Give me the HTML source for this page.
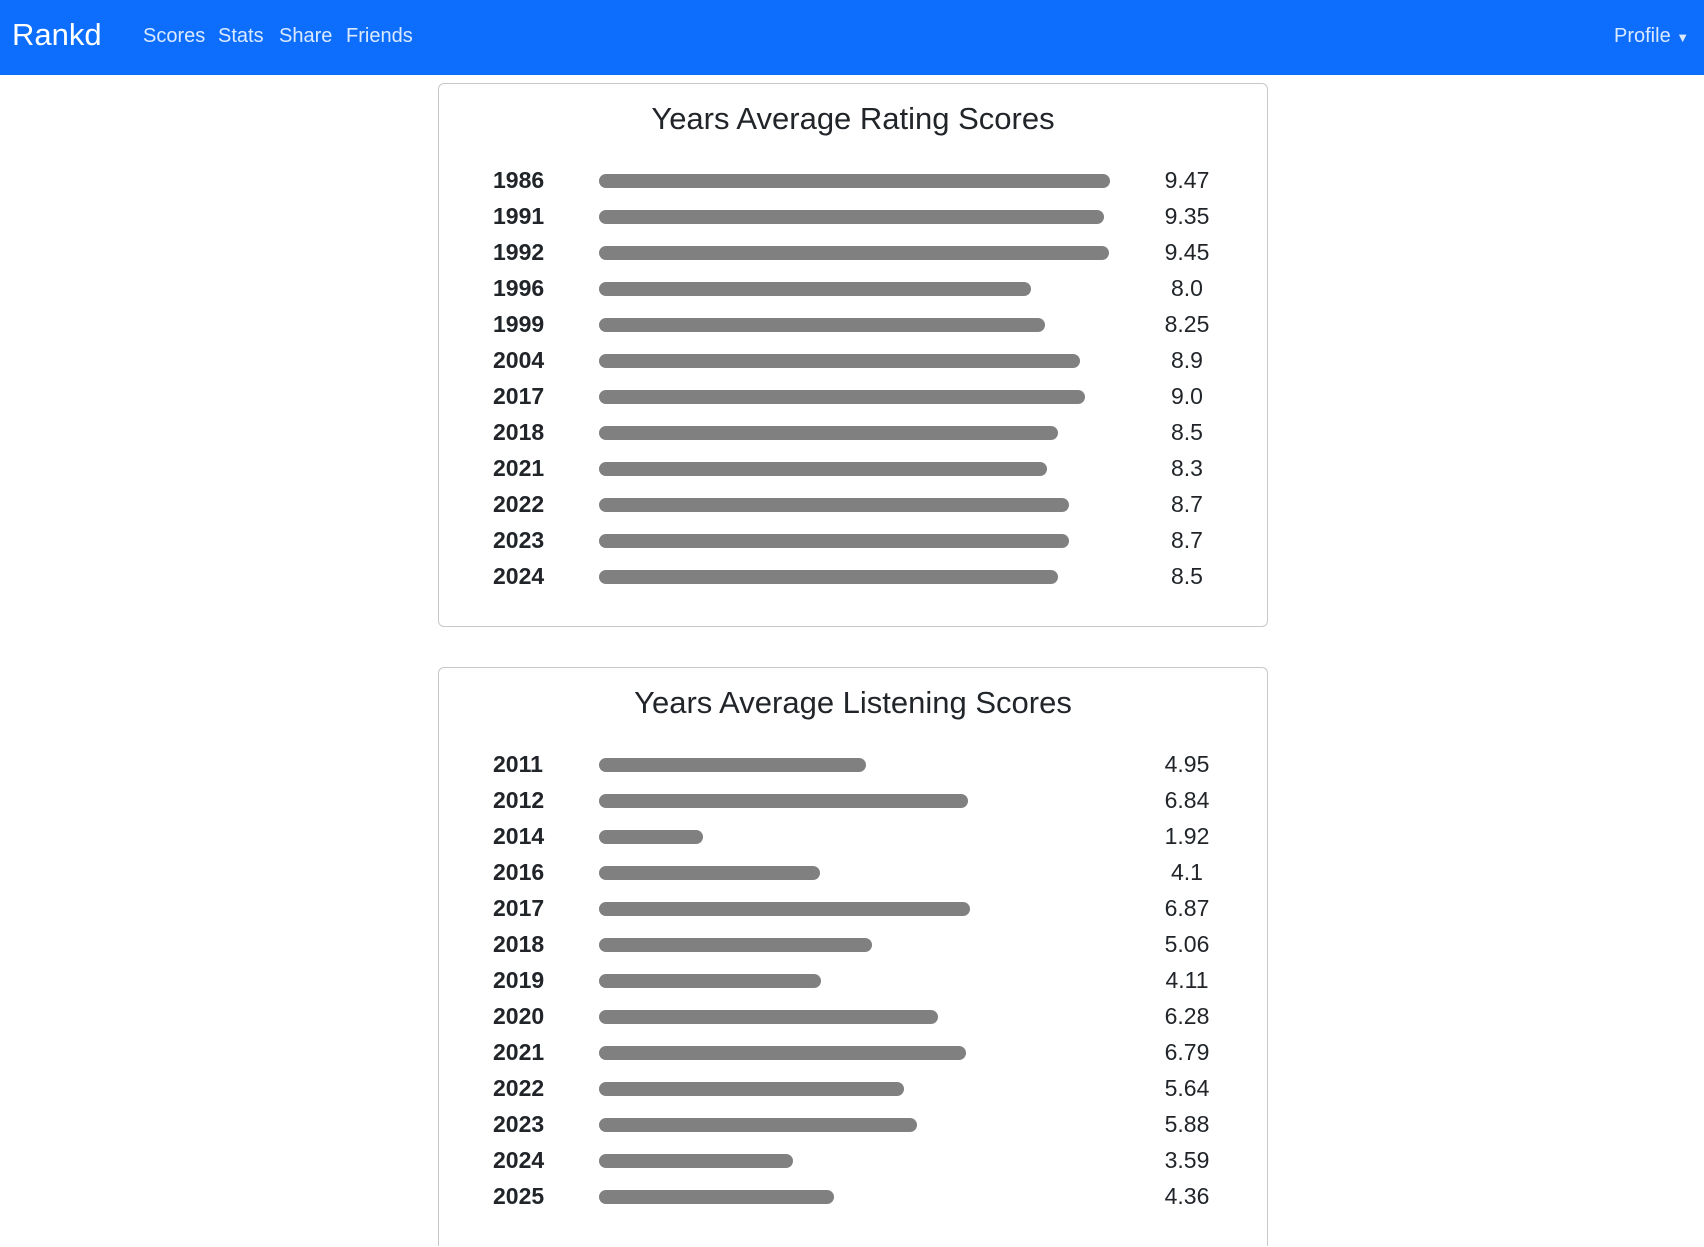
<!DOCTYPE html>
<html style="overflow:hidden;width:1704px;height:1247px"><head><meta charset="utf-8">
<style>
body{margin:0;width:1704px;height:1247px;overflow:hidden;background:#fff;font-family:"Liberation Sans","DejaVu Sans",sans-serif;position:relative;}
.nav{position:absolute;left:0;top:0;width:1704px;height:75px;background:#0d6efd;}
.brand{position:absolute;left:12px;top:17px;color:#fff;font-size:31px;}
.link{position:absolute;top:25px;color:rgba(255,255,255,0.85);font-size:20px;}
.card{position:absolute;left:438px;width:828px;border:1px solid #c8c8c8;border-radius:6px;background:#fff;}
.title{position:absolute;left:0;width:100%;text-align:center;font-size:31px;color:#212529;}
.yr{position:absolute;font-weight:bold;font-size:23px;color:#212529;}
.val{position:absolute;font-size:23px;color:#212529;text-align:center;width:100px;}
.bar{position:absolute;height:14px;background:#808080;border-radius:7px;}
</style></head><body>
<div class="nav">
<div class="brand">Rankd</div>
<div class="link" style="left:143px">Scores</div>
<div class="link" style="left:218px">Stats</div>
<div class="link" style="left:279px">Share</div>
<div class="link" style="left:346px">Friends</div>
<div class="link" style="left:1614px">Profile <span style="font-size:13px">&#9660;</span></div>
</div>
<div class="card" id="c1" style="top:83px;height:542px">
<div class="title" style="top:17px">Years Average Rating Scores</div>
</div>
<div class="card" id="c2" style="top:667px;height:578px;border-bottom:none;border-radius:6px 6px 0 0">
<div class="title" style="top:17px">Years Average Listening Scores</div>
</div>
<script>
const ratingYears=["1986","1991","1992","1996","1999","2004","2017","2018","2021","2022","2023","2024"];
const ratingValues=[9.47,9.35,9.45,8.0,8.25,8.9,9.0,8.5,8.3,8.7,8.7,8.5];
const ratingLabels=["9.47","9.35","9.45","8.0","8.25","8.9","9.0","8.5","8.3","8.7","8.7","8.5"];
const listenYears=["2011","2012","2014","2016","2017","2018","2019","2020","2021","2022","2023","2024","2025"];
const listenValues=[4.95,6.84,1.92,4.1,6.87,5.06,4.11,6.28,6.79,5.64,5.88,3.59,4.36];
const listenLabels=["4.95","6.84","1.92","4.1","6.87","5.06","4.11","6.28","6.79","5.64","5.88","3.59","4.36"];
const maxV=10, barW=540, rowH=36.0;
function x(v){return v/maxV*barW;}
function draw(card,years,vals,labels,firstY){
  years.forEach((y,i)=>{
    const cy=firstY+i*rowH;
    const t=document.createElement('div');t.className='yr';t.textContent=y;
    t.style.left='54px';t.style.top=(cy-14)+'px';
    
    
    card.appendChild(t);
    const b=document.createElement('div');b.className='bar';
    b.style.left='160px';b.style.top=(cy-7)+'px';b.style.width=x(vals[i])+'px';
    
    
    card.appendChild(b);
    const v=document.createElement('div');v.className='val';v.textContent=labels[i];
    v.style.left='698px';v.style.top=(cy-14)+'px';
    
    
    card.appendChild(v);
  });
}
draw(document.getElementById('c1'),ratingYears,ratingValues,ratingLabels,97);
draw(document.getElementById('c2'),listenYears,listenValues,listenLabels,97);
</script>
</body></html>
